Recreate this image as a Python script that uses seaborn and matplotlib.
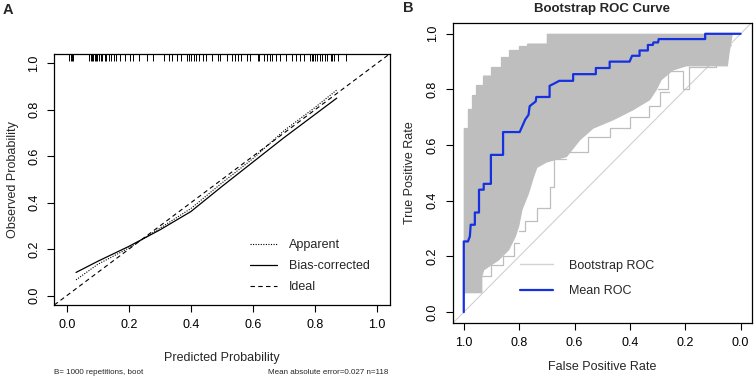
import matplotlib
matplotlib.use("Agg")
import matplotlib.pyplot as plt
import seaborn as sns


# ------------------------------------------------------------
# A: bootstrap calibration curve, B: bootstrap ROC curves
# ------------------------------------------------------------

# calibration curve (panel A)
predicted = [0.03, 0.1, 0.2, 0.3, 0.4, 0.5, 0.6, 0.7, 0.8, 0.87]
apparent = [0.068, 0.135, 0.205, 0.29, 0.375, 0.485, 0.59, 0.71, 0.81, 0.885]
bias_corrected = [0.10, 0.148, 0.212, 0.283, 0.362, 0.47, 0.575, 0.68, 0.78, 0.85]
ideal = [-0.04, 1.04]

# predicted probabilities of the patients (rug at the top)
rug_pred = [
    0.009, 0.013, 0.017, 0.021, 0.072, 0.077, 0.082, 0.085, 0.09, 0.094,
    0.098, 0.104, 0.109, 0.115, 0.122, 0.128, 0.136, 0.144, 0.151, 0.16,
    0.173, 0.187, 0.203, 0.215, 0.232, 0.258, 0.279, 0.315, 0.328, 0.339,
    0.354, 0.369, 0.389, 0.395, 0.402, 0.411, 0.418, 0.427, 0.439, 0.448,
    0.469, 0.488, 0.493, 0.517, 0.533, 0.542, 0.552, 0.563, 0.581, 0.592,
    0.616, 0.621, 0.635, 0.645, 0.656, 0.663, 0.674, 0.688, 0.706, 0.727,
    0.738, 0.752, 0.766, 0.784, 0.789, 0.795, 0.8, 0.808, 0.816, 0.823,
    0.832, 0.84, 0.851, 0.855, 0.862, 0.875, 0.901,
]

calib_ticks = [0.0, 0.2, 0.4, 0.6, 0.8, 1.0]
footnote_left = "B= 1000 repetitions, boot"
footnote_right = "Mean absolute error=0.027 n=118"

# mean ROC curve (panel B)
mean_spec = [
    1.0, 1.0, 0.985, 0.978, 0.975, 0.96, 0.96, 0.945, 0.945, 0.928,
    0.928, 0.902, 0.902, 0.858, 0.858, 0.798, 0.79, 0.778, 0.766, 0.762,
    0.74, 0.738, 0.69, 0.69, 0.672, 0.655, 0.605, 0.605, 0.523, 0.523,
    0.473, 0.473, 0.401, 0.392, 0.365, 0.365, 0.335, 0.335, 0.317, 0.315,
    0.298, 0.296, 0.128, 0.128, 0.0,
]
mean_sens = [
    0.0, 0.254, 0.254, 0.272, 0.314, 0.314, 0.358, 0.358, 0.44, 0.44,
    0.461, 0.461, 0.565, 0.565, 0.647, 0.647, 0.665, 0.692, 0.709, 0.74,
    0.757, 0.773, 0.773, 0.813, 0.822, 0.831, 0.831, 0.855, 0.855, 0.877,
    0.877, 0.9, 0.9, 0.921, 0.921, 0.94, 0.94, 0.96, 0.96, 0.969,
    0.969, 0.981, 0.981, 1.0, 1.0,
]

# envelope of the bootstrap ROC curves
upper_spec = [1.0, 1.0, 0.985, 0.985, 0.97, 0.97, 0.955, 0.955, 0.93, 0.93,
              0.9, 0.9, 0.865, 0.865, 0.835, 0.835, 0.8, 0.8, 0.77, 0.77,
              0.7, 0.7, 0.03]
upper_sens = [0.07, 0.66, 0.66, 0.73, 0.73, 0.78, 0.78, 0.815, 0.815, 0.85,
              0.85, 0.88, 0.88, 0.915, 0.915, 0.94, 0.94, 0.955, 0.955, 0.965,
              0.965, 1.0, 1.0]
lower_spec = [1.0, 0.935, 0.935, 0.928, 0.874, 0.838, 0.814, 0.802, 0.79,
              0.766, 0.748, 0.736, 0.7, 0.629, 0.581, 0.533, 0.461, 0.389,
              0.329, 0.305, 0.287, 0.245, 0.197, 0.048, 0.042, 0.03]
lower_sens = [0.07, 0.07, 0.13, 0.152, 0.188, 0.224, 0.272, 0.308, 0.368,
              0.428, 0.487, 0.52, 0.54, 0.559, 0.619, 0.661, 0.691, 0.727,
              0.763, 0.799, 0.835, 0.87, 0.885, 0.885, 0.931, 1.0]

# a few single bootstrap curves sticking out of the band
outlier_specs = [
    [0.8, 0.778, 0.778, 0.734, 0.734, 0.689, 0.689, 0.675, 0.675, 0.63],
    [0.94, 0.94, 0.9, 0.9, 0.86, 0.86, 0.82, 0.82, 0.8],
    [0.62, 0.55, 0.55, 0.47, 0.47, 0.4, 0.4, 0.33, 0.33, 0.29, 0.29, 0.26],
    [0.3, 0.263, 0.263, 0.209, 0.209, 0.186, 0.186, 0.12, 0.12, 0.06],
    [0.12, 0.09, 0.09, 0.06, 0.06, 0.035],
]
outlier_sens = [
    [0.29, 0.29, 0.326, 0.326, 0.374, 0.374, 0.45, 0.45, 0.55, 0.55],
    [0.09, 0.13, 0.13, 0.17, 0.17, 0.2, 0.2, 0.25, 0.25],
    [0.575, 0.575, 0.63, 0.63, 0.66, 0.66, 0.7, 0.7, 0.74, 0.74, 0.79, 0.79],
    [0.8, 0.8, 0.865, 0.865, 0.8, 0.8, 0.882, 0.882, 0.9, 0.9],
    [0.88, 0.88, 0.93, 0.93, 0.96, 0.96],
]

roc_ticks = [1.0, 0.8, 0.6, 0.4, 0.2, 0.0]

BOOT_GREY = "#BEBEBE"
MEAN_BLUE = "#1530E0"

sns.set_theme(style="ticks")
plt.rcParams["font.family"] = ["Liberation Sans", "DejaVu Sans"]
plt.rcParams["axes.linewidth"] = 0.9
plt.rcParams["xtick.major.size"] = 5
plt.rcParams["ytick.major.size"] = 5
plt.rcParams["xtick.major.pad"] = 5
plt.rcParams["ytick.major.pad"] = 5


def style_axes(ax):
    for side in ["left", "right", "top", "bottom"]:
        ax.spines[side].set_visible(True)
        ax.spines[side].set_color("black")
    ax.tick_params(labelsize=9, colors="black", width=0.8)
    plt.setp(ax.get_yticklabels(), rotation=90, va="center")


fig = plt.figure(figsize=(7.55, 3.82), dpi=100)

# ---------------- Panel A ----------------
ax1 = fig.add_axes([0.0719, 0.2016, 0.444, 0.657])

sns.lineplot(x=ideal, y=ideal, ax=ax1, color="black", lw=0.8,
             linestyle=(0, (4, 3)), label="Ideal", sort=False, estimator=None)
sns.lineplot(x=predicted, y=apparent, ax=ax1, color="black", lw=0.8,
             linestyle=(0, (1, 1.3)), label="Apparent", sort=False, estimator=None)
sns.lineplot(x=predicted, y=bias_corrected, ax=ax1, color="black", lw=0.9,
             label="Bias-corrected", sort=False, estimator=None)

ax1.vlines(rug_pred, 0.972, 1.0, color="black", lw=0.7,
           transform=ax1.get_xaxis_transform())

ax1.set_xlim(-0.04, 1.04)
ax1.set_ylim(-0.04, 1.04)
ax1.set_xticks(calib_ticks)
ax1.set_yticks(calib_ticks)
ax1.set_xticklabels([f"{t:.1f}" for t in calib_ticks])
ax1.set_yticklabels([f"{t:.1f}" for t in calib_ticks])
ax1.set_xlabel("Predicted Probability", fontsize=9)
ax1.set_ylabel("Observed Probability", fontsize=9)
ax1.xaxis.set_label_coords(0.5, -0.211)
ax1.yaxis.set_label_coords(-0.122, 0.5)
ax1.xaxis.label.set_va("center")
ax1.yaxis.label.set_va("center")
style_axes(ax1)

handles, labels = ax1.get_legend_handles_labels()
order = [labels.index(n) for n in ["Apparent", "Bias-corrected", "Ideal"]]
ax1.legend([handles[i] for i in order], [labels[i] for i in order],
           loc="upper left", bbox_to_anchor=(0.584, 0.261), frameon=False,
           fontsize=9, borderpad=0, borderaxespad=0, handlelength=2.15,
           handletextpad=0.95, labelspacing=0.72)

fig.text(0.072, 0.0236, footnote_left, fontsize=5.8, ha="left", va="center")
fig.text(0.515, 0.0236, footnote_right, fontsize=5.8, ha="right", va="center")

# ---------------- Panel B ----------------
ax2 = fig.add_axes([0.5996, 0.1537, 0.396, 0.787])

ax2.plot([1.04, -0.04], [-0.04, 1.04], color="#D0D0D0", lw=0.8, zorder=1)

band_x = upper_spec + lower_spec[::-1]
band_y = upper_sens + lower_sens[::-1]
ax2.fill(band_x, band_y, color=BOOT_GREY, lw=0, zorder=2)
sns.lineplot(x=upper_spec, y=upper_sens, ax=ax2, color=BOOT_GREY, lw=0.9,
             sort=False, estimator=None, zorder=2)
sns.lineplot(x=lower_spec, y=lower_sens, ax=ax2, color=BOOT_GREY, lw=0.9,
             sort=False, estimator=None, zorder=2)
for xs, ys in zip(outlier_specs, outlier_sens):
    sns.lineplot(x=xs, y=ys, ax=ax2, color=BOOT_GREY, lw=0.9,
                 sort=False, estimator=None, zorder=2)

sns.lineplot(x=mean_spec, y=mean_sens, ax=ax2, color=MEAN_BLUE, lw=1.6,
             sort=False, estimator=None, zorder=3)

ax2.set_xlim(1.04, -0.04)
ax2.set_ylim(-0.04, 1.04)
ax2.set_xticks(roc_ticks)
ax2.set_yticks(roc_ticks[::-1])
ax2.set_xticklabels([f"{t:.1f}" for t in roc_ticks])
ax2.set_yticklabels([f"{t:.1f}" for t in roc_ticks[::-1]])
ax2.set_xlabel("False Positive Rate", fontsize=9)
ax2.set_ylabel("True Positive Rate", fontsize=9)
ax2.xaxis.set_label_coords(0.5, -0.144)
ax2.yaxis.set_label_coords(-0.143, 0.5)
ax2.xaxis.label.set_va("center")
ax2.yaxis.label.set_va("center")
style_axes(ax2)

legend_handles = [
    plt.Line2D([], [], color="#D3D3D3", lw=1.0),
    plt.Line2D([], [], color=MEAN_BLUE, lw=1.6),
]
ax2.legend(legend_handles, ["Bootstrap ROC", "Mean ROC"], loc="upper left",
           bbox_to_anchor=(0.225, 0.212), frameon=False, fontsize=9,
           borderpad=0, borderaxespad=0, handlelength=2.64,
           handletextpad=1.28, labelspacing=1.1)

fig.text(0.798, 0.977, "Bootstrap ROC Curve", fontsize=9.5, fontweight="bold",
         ha="center", va="center")

# panel letters
fig.text(0.011, 0.974, "A", fontsize=10.5, fontweight="bold", ha="center", va="center")
fig.text(0.541, 0.978, "B", fontsize=10.5, fontweight="bold", ha="center", va="center")

fig.savefig("out.png", dpi=100)
